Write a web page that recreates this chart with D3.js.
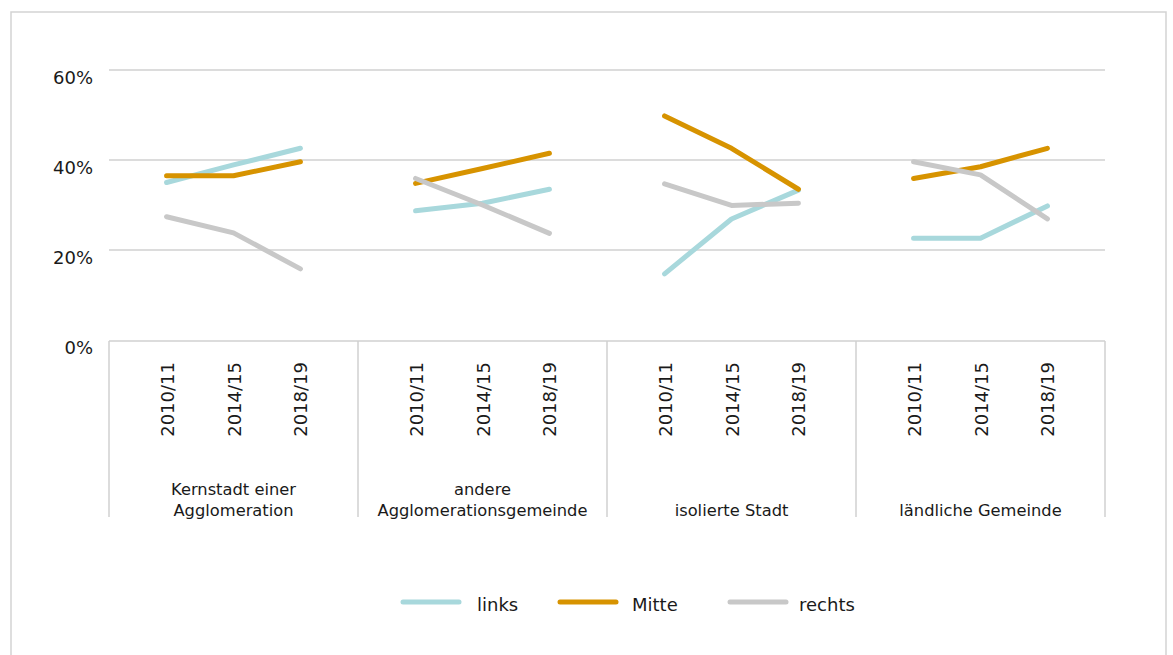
<!DOCTYPE html>
<html>
<head>
<meta charset="utf-8">
<script src="https://cdn.jsdelivr.net/npm/d3@7"></script>
<style>
  html, body { margin: 0; padding: 0; background: #fff; }
  svg { display: block; }
  text { font-family: "DejaVu Sans", "Noto Sans", sans-serif; fill: #1a1a1a; }
</style>
</head>
<body>
<svg id="chart" width="1173" height="655"></svg>
<script>
// ---- data ----
const categories = [
  ["Kernstadt einer", "Agglomeration"],
  ["andere", "Agglomerationsgemeinde"],
  ["isolierte Stadt"],
  ["ländliche Gemeinde"]
];
const years = ["2010/11", "2014/15", "2018/19"];
const seriesNames = ["links", "Mitte", "rechts"];
const links  = [[35.0, 38.9, 42.6], [28.7, 30.4, 33.5], [14.7, 26.9, 33.3], [22.6, 22.6, 29.8]];
const mitte  = [[36.5, 36.5, 39.6], [34.8, 38.1, 41.5], [49.8, 42.6, 33.5], [35.9, 38.5, 42.6]];
const rechts = [[27.4, 23.8, 15.8], [35.9, 30.0, 23.7], [34.7, 29.9, 30.4], [39.6, 36.7, 26.9]];
const yTicks = [0, 20, 40, 60];
const colors = ["#a8d8dc", "#d79300", "#c8c8c8"];

const seriesValues = [links, mitte, rechts];

const svg = d3.select("#chart");

// outer frame
svg.append("rect")
  .attr("x", 11).attr("y", 12).attr("width", 1155).attr("height", 700)
  .attr("fill", "none").attr("stroke", "#d3d3d3").attr("stroke-width", 1.5);

const plotLeft = 109, plotRight = 1105, plotTop = 70, plotBottom = 340;

const y = d3.scaleLinear().domain([0, 60]).range([plotBottom, plotTop]);
const xCat = d3.scaleBand().domain(d3.range(categories.length)).range([plotLeft, plotRight]).padding(0);
const xYear = d3.scalePoint().domain(years).range([0, xCat.bandwidth()]).padding(0.86);

// gridlines
svg.append("g").selectAll("line").data(yTicks.filter(t => t > 0)).join("line")
  .attr("x1", plotLeft).attr("x2", plotRight)
  .attr("y1", d => y(d)).attr("y2", d => y(d))
  .attr("stroke", "#d0d0d0").attr("stroke-width", 1.5);

// baseline axis
svg.append("line")
  .attr("x1", plotLeft).attr("x2", plotRight)
  .attr("y1", y(0) + 1).attr("y2", y(0) + 1)
  .attr("stroke", "#d0d0d0").attr("stroke-width", 1.5);

// y labels
svg.append("g").selectAll("text").data(yTicks).join("text")
  .attr("x", 93).attr("y", d => y(d) + 14)
  .attr("text-anchor", "end")
  .attr("font-size", 18)
  .text(d => d + "%");

// panel separators
const seps = d3.range(categories.length + 1).map(i => i < categories.length ? xCat(i) : plotRight);
svg.append("g").selectAll("line").data(seps).join("line")
  .attr("x1", d => d).attr("x2", d => d)
  .attr("y1", y(0) + 1).attr("y2", 517)
  .attr("stroke", "#d0d0d0").attr("stroke-width", 1.5);

// year labels + category labels
categories.forEach((c, ci) => {
  svg.append("g").selectAll("text").data(years).join("text")
    .attr("transform", d => `translate(${xCat(ci) + xYear(d) + 7},362) rotate(-90)`)
    .attr("text-anchor", "end")
    .attr("font-size", 18)
    .text(d => d);
  const n = c.length;
  svg.append("g").selectAll("text").data(c).join("text")
    .attr("x", xCat(ci) + xCat.bandwidth() / 2)
    .attr("y", (d, i) => 516 - (n - 1 - i) * 21)
    .attr("text-anchor", "middle")
    .attr("font-size", 16.3)
    .text(d => d);
});

// lines
const line = d3.line().x(d => d[0]).y(d => d[1]);
seriesValues.forEach((vals, si) => {
  vals.forEach((panel, ci) => {
    const pts = panel.map((v, k) => [xCat(ci) + xYear(years[k]), y(v)]);
    svg.append("path")
      .attr("d", line(pts))
      .attr("fill", "none")
      .attr("stroke", colors[si])
      .attr("stroke-width", 5)
      .attr("stroke-linecap", "round")
      .attr("stroke-linejoin", "round");
  });
});

// legend
const legendX = [403, 560, 730];
const lg = svg.append("g").selectAll("g").data(seriesNames).join("g")
  .attr("transform", (d, i) => `translate(${legendX[i]},602)`);
lg.append("line")
  .attr("x1", 0).attr("x2", 56).attr("y1", 0).attr("y2", 0)
  .attr("stroke", (d, i) => colors[i]).attr("stroke-width", 5)
  .attr("stroke-linecap", "round");
lg.append("text")
  .attr("x", (d, i) => [74, 72, 69][i]).attr("y", 9)
  .attr("font-size", 18)
  .text(d => d);
</script>
</body>
</html>
